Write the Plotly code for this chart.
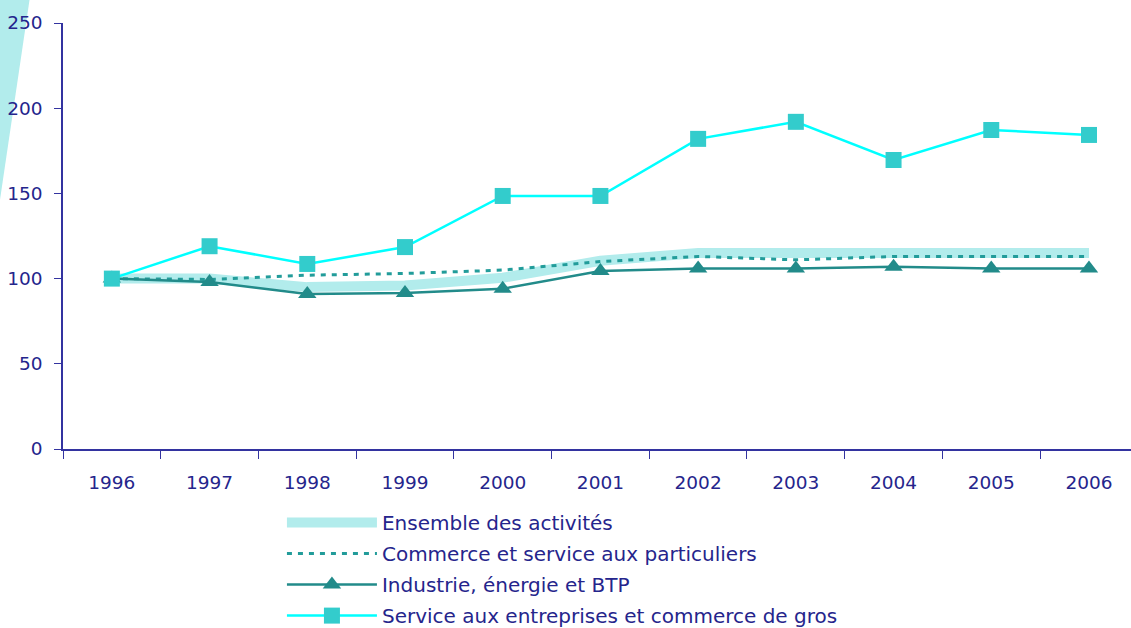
import plotly.graph_objects as go

years = ["1996", "1997", "1998", "1999", "2000", "2001", "2002", "2003", "2004", "2005", "2006"]
ensemble = [100, 100, 95, 96, 100.5, 110.5, 115, 115, 114.5, 115, 115]
commerce = [100, 99.5, 102, 103, 105, 110, 113, 111, 113, 113, 113]
industrie = [100, 98, 91, 91.5, 94, 104.5, 106, 106, 107, 106, 106]
service = [100, 119, 108.6, 118.5, 148.5, 148.5, 182, 192, 169.6, 187.2, 184.3]

names = ["Ensemble des activités", "Commerce et service aux particuliers",
         "Industrie, énergie et BTP", "Service aux entreprises et commerce de gros"]

txt = "#25258c"
axc = "#3333a0"
fnt = "DejaVu Sans, sans-serif"

fig = go.Figure()
fig.add_trace(go.Scatter(x=years, y=ensemble, name=names[0], mode="lines",
                         line=dict(color="#b2ecec", width=10), legendgroup="a"))
fig.add_trace(go.Scatter(x=years, y=commerce, name=names[1], mode="lines",
                         line=dict(color="#229c9a", width=3, dash="5px,6px"), legendgroup="b"))
fig.add_trace(go.Scatter(x=years, y=industrie, name=names[2], mode="lines+markers",
                         line=dict(color="#228b8a", width=2.5),
                         marker=dict(symbol="triangle-up", size=16, color="#228b8a"),
                         legendgroup="c"))
fig.add_trace(go.Scatter(x=years, y=service, name=names[3], mode="lines+markers",
                         line=dict(color="#00ffff", width=2.5),
                         marker=dict(symbol="square", size=16, color="#33cccc"),
                         legendgroup="d"))

fig.update_layout(
    width=1131, height=628,
    margin=dict(l=63, r=0, t=23, b=179, autoexpand=False),
    paper_bgcolor="white", plot_bgcolor="white",
    font=dict(family=fnt, color=txt, size=18),
    showlegend=True,
    legend=dict(x=0.205, y=-0.127, xanchor="left", yanchor="top",
                itemwidth=90, tracegroupgap=2, font=dict(family=fnt, size=20, color=txt),
                bgcolor="rgba(0,0,0,0)"),
    xaxis=dict(type="category", range=[-0.5, 10.43], showline=True, linecolor=axc,
               linewidth=1.5, ticks="outside", tickson="boundaries", ticklen=8,
               tickcolor=axc, showgrid=False, automargin=False, ticklabelstandoff=16,
               tickfont=dict(family=fnt, size=18.5, color=txt)),
    yaxis=dict(range=[0, 250], dtick=50, showline=True, linecolor=axc, linewidth=1.5,
               ticks="outside", ticklen=7, tickcolor=axc, showgrid=False, zeroline=False,
               automargin=False, ticklabelstandoff=8,
               tickfont=dict(family=fnt, size=18.5, color=txt)),
    shapes=[dict(type="path", xref="paper", yref="paper",
                 path="M -0.07 1.06 L -0.031 1.06 L -0.059 0.585 L -0.07 0.585 Z",
                 fillcolor="#b2ecec", line=dict(width=0), layer="below")],
)

fig.write_html("out.html", config={"displayModeBar": False},
               post_script="document.body.style.margin='0';document.body.style.overflow='hidden';")
